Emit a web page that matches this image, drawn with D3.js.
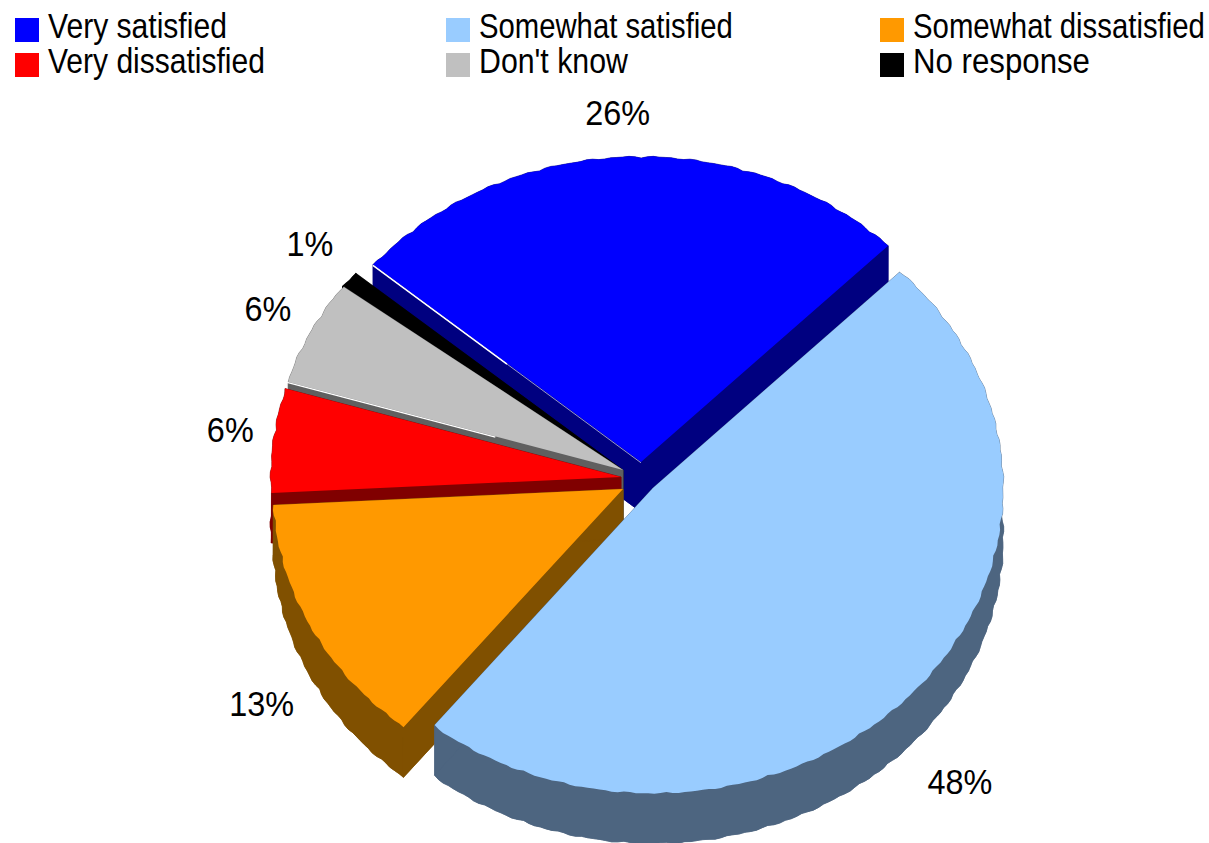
<!DOCTYPE html>
<html><head><meta charset="utf-8">
<script src="https://cdn.jsdelivr.net/npm/d3@7"></script>
<style>html,body{margin:0;padding:0;background:#fff;overflow:hidden}svg{display:block}
text{font-family:"Liberation Sans",Arial,sans-serif;fill:#000}</style></head>
<body><svg id="c" width="1209" height="843"></svg>
<script>
// data
const categories = ["Very satisfied","Somewhat satisfied","Somewhat dissatisfied","Very dissatisfied","Don't know","No response"];
const shares = [26.3,48.3,13.4,5.5,5.6,0.9];
const topColors = ["#0000ff","#99ccff","#ff9900","#ff0000","#c0c0c0","#000000"];
const wallColors = ["#000080","#4d6580","#805000","#800000","#606060","#000000"];

// layout
const W=1209,H=843,rx=351,ry=306,depth=50,fontSize=36,labelScale=0.9;
const legendWidths=[179,254,292,217,149,177];
const centers=[[641,462],[653,488],[623,489],[621,477],[623,470],[623,470]];
const nudges=[[-6,2],[6,58],[-2,54],[10,-6],[5,-3],[2.5,-8]];
const legendCols=[15,446,880], legendRows=[18,53];
const drawOrder=[0,5,4,3,2,1];
const deg=Math.PI/180;

const svg=d3.select("#c");
const pie=d3.pie().sort(null).value(d=>d).startAngle(-49.8*deg).endAngle((360-49.8)*deg);
const arcs=pie(shares);
const line=d3.line().x(d=>d[0]).y(d=>d[1]);
const wob=(a,p)=>1-0.007+0.007*(0.5*Math.abs(Math.sin(a*31+p))+0.5*Math.abs(Math.sin(a*53+p*2)));
function pt(i,a,k=1,dy=0){const c=centers[i];return [c[0]+rx*k*Math.sin(a),c[1]-ry*k*Math.cos(a)+dy];}
function rim(i,a0,a1,dy=0){
  const n=Math.max(2,Math.ceil((a1-a0)/(1*deg)));
  const p=i+(dy?3:0);
  return d3.range(n+1).map(j=>{const a=a0+(a1-a0)*j/n;return pt(i,a,wob(a,p),dy);});
}
function sector(i,dy=0){
  const c=centers[i],d=arcs[i];
  return line([[c[0],c[1]+dy],...rim(i,d.startAngle,d.endAngle,dy)])+"Z";
}
const plot=svg.append("g");
drawOrder.forEach(i=>{
  const d=arcs[i],c=centers[i],g=plot.append("g");
  const st=wallColors[i];
  const poly=p=>g.append("path").attr("d",line(p)+"Z").attr("fill",st).attr("stroke",st).attr("stroke-width",0.6);
  g.append("path").attr("d",sector(i,depth)).attr("fill",st).attr("stroke",st).attr("stroke-width",0.6);
  const r=rim(i,d.startAngle,d.endAngle);
  const r2=rim(i,d.startAngle,d.endAngle,depth);
  poly([...r,...r2.slice().reverse()]);
  [r[0],r[r.length-1]].forEach(e=>poly([[c[0],c[1]],e,[e[0],e[1]+depth],[c[0],c[1]+depth]]));
  g.append("path").attr("d",sector(i)).attr("fill",topColors[i]);
});
// thin highlights along cut edges
const hl=(i,f,w)=>{const c=centers[i],e=pt(i,arcs[i].startAngle);
  plot.append("line").attr("x1",e[0]).attr("y1",e[1]+0.8)
    .attr("x2",e[0]+(c[0]-e[0])*f).attr("y2",e[1]+0.8+(c[1]-e[1])*f)
    .attr("stroke","#fff").attr("stroke-width",w);};
hl(0,0.5,1.5);hl(0,1,0.6);hl(4,0.62,1.2);
// percentage labels
arcs.forEach((d,i)=>{
  const p=pt(i,(d.startAngle+d.endAngle)/2,1.15);
  svg.append("text").attr("transform",`translate(${p[0]+nudges[i][0]},${p[1]+nudges[i][1]+13}) scale(${labelScale},1)`)
    .attr("text-anchor","middle").attr("font-size",fontSize).text(Math.round(d.value)+"%");
});
// legend
categories.forEach((t,i)=>{
  const x=legendCols[i%3],y=legendRows[Math.floor(i/3)];
  svg.append("rect").attr("x",x).attr("y",y).attr("width",24).attr("height",24).attr("fill",topColors[i]);
  const tx=svg.append("text").attr("font-size",fontSize).text(t);
  const sx=legendWidths[i]/tx.node().getComputedTextLength();
  tx.attr("transform",`translate(${x+33},${y+20}) scale(${sx},1)`);
});
</script></body></html>
